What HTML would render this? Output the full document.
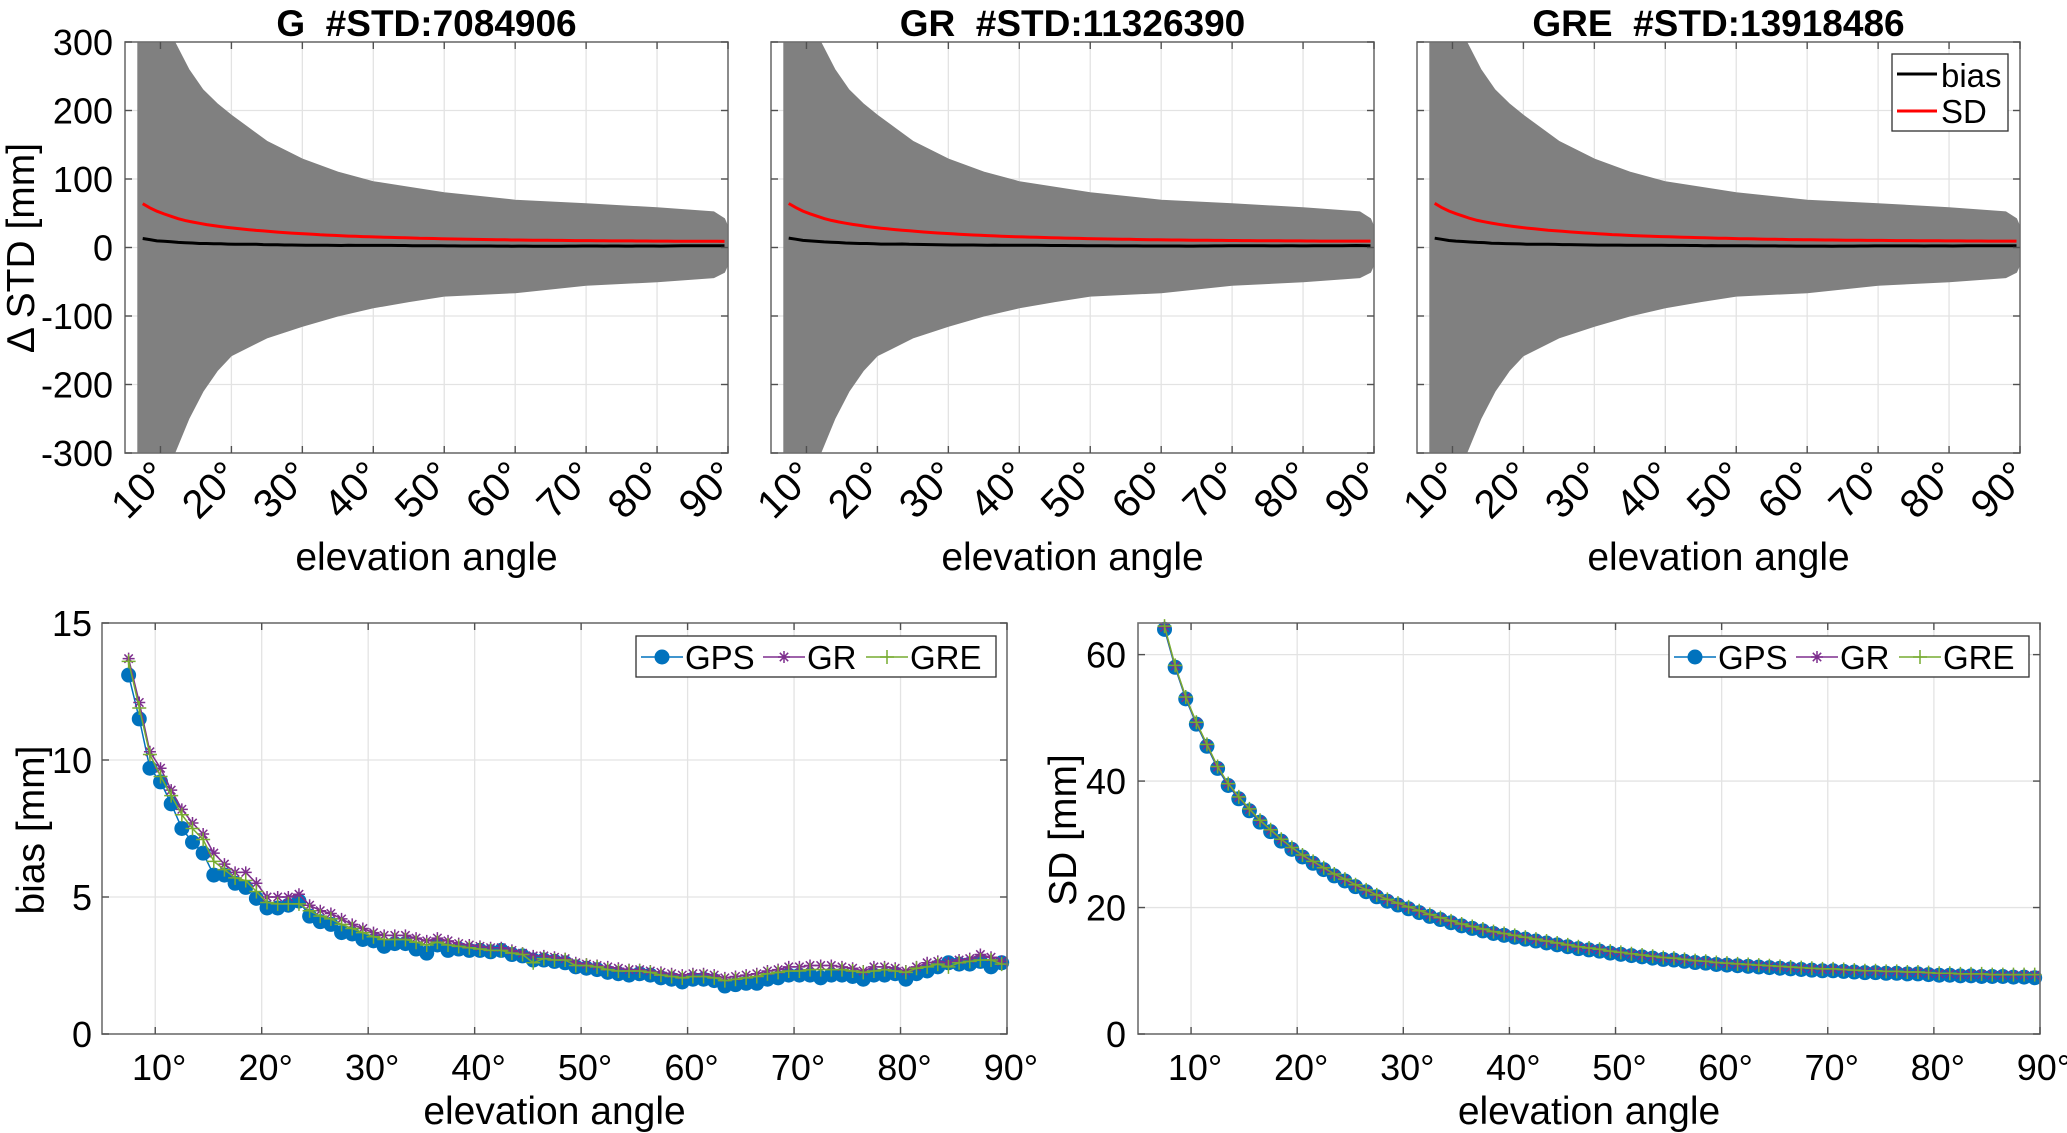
<!DOCTYPE html>
<html><head><meta charset="utf-8"><style>
body{margin:0;background:#fff}
svg{display:block;font-family:"Liberation Sans",sans-serif}
text{white-space:pre}
</style></head><body>
<svg id="fig" width="2067" height="1133" viewBox="0 0 2067 1133" xmlns="http://www.w3.org/2000/svg"></svg>
<script>
const elev=[7.5,8.5,9.5,10.5,11.5,12.5,13.5,14.5,15.5,16.5,17.5,18.5,19.5,20.5,21.5,22.5,23.5,24.5,25.5,26.5,27.5,28.5,29.5,30.5,31.5,32.5,33.5,34.5,35.5,36.5,37.5,38.5,39.5,40.5,41.5,42.5,43.5,44.5,45.5,46.5,47.5,48.5,49.5,50.5,51.5,52.5,53.5,54.5,55.5,56.5,57.5,58.5,59.5,60.5,61.5,62.5,63.5,64.5,65.5,66.5,67.5,68.5,69.5,70.5,71.5,72.5,73.5,74.5,75.5,76.5,77.5,78.5,79.5,80.5,81.5,82.5,83.5,84.5,85.5,86.5,87.5,88.5,89.5];
const biasGPS=[13.1,11.5,9.7,9.2,8.4,7.5,7.0,6.6,5.8,5.8,5.5,5.35,4.95,4.6,4.6,4.7,4.85,4.3,4.1,4.0,3.7,3.65,3.45,3.4,3.2,3.3,3.3,3.1,2.95,3.25,3.05,3.1,3.05,3.05,3.0,3.05,2.9,2.85,2.7,2.7,2.65,2.6,2.45,2.4,2.35,2.25,2.2,2.15,2.2,2.15,2.05,2.0,1.9,2.0,2.0,1.95,1.75,1.8,1.85,1.85,2.0,2.05,2.15,2.15,2.15,2.05,2.15,2.15,2.1,2.0,2.15,2.15,2.2,2.0,2.2,2.3,2.45,2.6,2.55,2.55,2.65,2.45,2.6];
const biasGR=[13.7,12.1,10.3,9.7,8.9,8.2,7.7,7.3,6.6,6.2,5.9,5.9,5.5,5.0,5.0,5.0,5.1,4.7,4.5,4.4,4.2,4.0,3.85,3.7,3.6,3.6,3.6,3.5,3.4,3.5,3.4,3.3,3.25,3.2,3.15,3.15,3.05,2.95,2.85,2.85,2.8,2.75,2.6,2.55,2.5,2.45,2.4,2.35,2.35,2.3,2.25,2.2,2.15,2.2,2.2,2.15,2.05,2.1,2.15,2.2,2.3,2.35,2.45,2.45,2.5,2.5,2.5,2.45,2.4,2.3,2.45,2.45,2.4,2.3,2.45,2.6,2.65,2.6,2.7,2.75,2.9,2.8,2.65];
const biasGRE=[13.6,11.9,10.2,9.4,8.7,8.0,7.5,7.1,6.3,6.0,5.7,5.6,5.2,4.8,4.75,4.75,4.75,4.5,4.3,4.2,4.0,3.85,3.7,3.55,3.45,3.45,3.45,3.35,3.25,3.35,3.25,3.2,3.15,3.1,3.05,3.05,2.95,2.9,2.6,2.75,2.7,2.7,2.5,2.5,2.45,2.35,2.3,2.3,2.3,2.25,2.15,2.1,2.05,2.1,2.1,2.05,1.95,2.0,2.05,2.1,2.2,2.25,2.3,2.3,2.35,2.35,2.35,2.35,2.3,2.25,2.3,2.35,2.3,2.25,2.4,2.45,2.55,2.45,2.6,2.65,2.7,2.7,2.55];
const sdGPS=[64,58,53,49,45.5,42,39.3,37.2,35.3,33.5,32,30.5,29.2,28,27,26,25,24.2,23.3,22.5,21.7,21,20.4,19.8,19.2,18.6,18.1,17.6,17.1,16.7,16.3,15.9,15.6,15.3,15.0,14.7,14.4,14.1,13.8,13.5,13.3,13.1,12.8,12.6,12.4,12.2,12.0,11.8,11.7,11.5,11.3,11.2,11.0,10.9,10.8,10.7,10.6,10.5,10.4,10.3,10.2,10.1,10.0,10.0,9.9,9.8,9.7,9.7,9.6,9.6,9.5,9.5,9.4,9.3,9.3,9.2,9.2,9.1,9.1,9.1,9.0,9.0,8.9];
const sdGR=[64.3,58.2,53.2,49.2,45.7,42.2,39.5,37.4,35.5,33.7,32.2,30.7,29.4,28.2,27.2,26.2,25.2,24.4,23.5,22.7,21.9,21.2,20.6,20.0,19.4,18.8,18.3,17.8,17.3,16.9,16.5,16.1,15.8,15.5,15.2,14.9,14.6,14.3,14.0,13.7,13.5,13.3,13.0,12.8,12.6,12.4,12.2,12.0,11.9,11.7,11.5,11.4,11.2,11.1,11.0,10.9,10.8,10.7,10.6,10.5,10.4,10.3,10.2,10.2,10.1,10.0,9.9,9.9,9.8,9.8,9.7,9.7,9.6,9.5,9.5,9.4,9.4,9.4,9.3,9.3,9.3,9.3,9.3];
const sdGRE=[64.5,58.3,53.3,49.3,45.8,42.3,39.6,37.5,35.6,33.8,32.3,30.8,29.5,28.3,27.3,26.3,25.3,24.5,23.6,22.8,22.0,21.3,20.7,20.1,19.5,18.9,18.4,17.9,17.4,17.0,16.6,16.2,15.9,15.6,15.3,15.0,14.7,14.4,14.1,13.8,13.6,13.4,13.1,12.9,12.7,12.5,12.3,12.1,12.0,11.8,11.6,11.5,11.3,11.2,11.1,11.0,10.9,10.8,10.7,10.6,10.5,10.4,10.3,10.3,10.2,10.1,10.0,10.0,9.9,9.9,9.8,9.8,9.7,9.6,9.6,9.5,9.5,9.5,9.4,9.4,9.4,9.4,9.4];
const envX=[6.8,8,10,12,14,16,18,20,25,30,35,40,45,50,60,70,80,88,89.5,90];
const envUpper=[340,340,330,300,260,230,210,193,155,129,110,96,88,80,69,64,58,52,42,30];
const envLower=[-340,-340,-330,-300,-250,-210,-180,-158,-132,-115,-100,-88,-79,-71,-66,-55,-50,-44,-36,-25];
const xTicks=[10,20,30,40,50,60,70,80,90];
const topYTicks=[-300,-200,-100,0,100,200,300];
const biasYTicks=[0,5,10,15];
const sdYTicks=[0,20,40,60];
const topTitles=["G  #STD:7084906","GR  #STD:11326390","GRE  #STD:13918486"];

const NS="http://www.w3.org/2000/svg";
const svg=document.getElementById('fig');
const FT=36, FL=39;
function mk(tag,attrs,parent){const e=document.createElementNS(NS,tag);for(const k in attrs)e.setAttribute(k,attrs[k]);(parent||svg).appendChild(e);return e;}
function txt(s,attrs,parent){const e=mk('text',attrs,parent);e.textContent=s;return e;}
function scale(d0,d1,r0,r1){return v=>r0+(v-d0)/(d1-d0)*(r1-r0);}

function axesFrame(g,L,R,T,B,sx,sy,yt){
  xTicks.forEach(t=>{const l=mk('line',{x1:sx(t),x2:sx(t),y1:T,y2:B,stroke:'#e3e3e3','stroke-width':1.3},g);
    
    });
  yt.forEach(t=>{const l=mk('line',{x1:L,x2:R,y1:sy(t),y2:sy(t),stroke:'#e3e3e3','stroke-width':1.3},g);
    
    });
}
function axesBox(g,L,R,T,B,sx,sy,yt){
  const r=mk('rect',{x:L,y:T,width:R-L,height:B-T,fill:'none',stroke:'#707070','stroke-width':1.6},g);
  
  
  xTicks.forEach(t=>{mk('line',{x1:sx(t),x2:sx(t),y1:B,y2:B-7,stroke:'#505050','stroke-width':1.4},g);mk('line',{x1:sx(t),x2:sx(t),y1:T,y2:T+7,stroke:'#505050','stroke-width':1.4},g);});
  yt.forEach(t=>{mk('line',{x1:L,x2:L+7,y1:sy(t),y2:sy(t),stroke:'#505050','stroke-width':1.4},g);mk('line',{x1:R,x2:R-7,y1:sy(t),y2:sy(t),stroke:'#505050','stroke-width':1.4},g);});
}
function pathFrom(xs,ys,sx,sy){return xs.map((x,i)=>(i?'L':'M')+sx(x).toFixed(1)+','+sy(ys[i]).toFixed(1)).join(' ');}

const topL=[125,771,1417], W=603, T=42, B=453;
const biasSets=[biasGPS,biasGR,biasGRE], sdSets=[sdGPS,sdGR,sdGRE];
topL.forEach((L,p)=>{
  const R=L+W;
  const g=mk('g',{});
  
  
  const sx=scale(5,90,L,R), sy=scale(-300,300,B,T);
  const cp=mk('clipPath',{id:'clip'+p},g);
  mk('rect',{x:L,y:T,width:W,height:B-T},cp);
  axesFrame(g,L,R,T,B,sx,sy,topYTicks);
  const cg=mk('g',{'clip-path':'url(#clip'+p+')'},g);
  let d=pathFrom(envX,envUpper,sx,sy);
  const rx=envX.slice().reverse(), rl=envLower.slice().reverse();
  d+=' '+rx.map((x,i)=>'L'+sx(x).toFixed(1)+','+sy(rl[i]).toFixed(1)).join(' ')+' Z';
  const sc=mk('path',{d:d,fill:'#808080',stroke:'#808080','stroke-width':1},cg);
  
  
  const sdl=mk('path',{d:pathFrom(elev,sdSets[p],sx,sy),fill:'none',stroke:'#ff0000','stroke-width':3},cg);
  
  
  const bl=mk('path',{d:pathFrom(elev,biasSets[p],sx,sy),fill:'none',stroke:'#000','stroke-width':3},cg);
  
  
  axesBox(g,L,R,T,B,sx,sy,topYTicks);
  const tt=txt(topTitles[p],{x:(L+R)/2,y:36,'text-anchor':'middle','font-size':37,'font-weight':'bold'},g);
  
  
  xTicks.forEach(t=>{const x=sx(t)+10,y=478;
    const e=txt(t+'°',{x:x,y:y,'text-anchor':'end','font-size':40,transform:'rotate(-45 '+x+' '+y+')'},g);
    
    });
  if(p===0){topYTicks.forEach(t=>{const e=txt(t,{x:113,y:sy(t)+13,'text-anchor':'end','font-size':FT},g);
    
    });
    const yl=txt('Δ STD [mm]',{x:0,y:0,'text-anchor':'middle','font-size':FL,transform:'translate(34 248) rotate(-90)'},g);
    
    }
  const xl=txt('elevation angle',{x:(L+R)/2,y:570,'text-anchor':'middle','font-size':FL},g);
  
  
  if(p===2){
    const lg=mk('g',{},g);
    
    
    mk('rect',{x:1892,y:54,width:116,height:77,fill:'#fff',stroke:'#303030','stroke-width':1.3},lg);
    mk('line',{x1:1897,x2:1937,y1:74,y2:74,stroke:'#000','stroke-width':3},lg);
    mk('line',{x1:1897,x2:1937,y1:111,y2:111,stroke:'#f00','stroke-width':3},lg);
    const a=txt('bias',{x:1941,y:87,'font-size':33},lg);
    
    
    const b=txt('SD',{x:1941,y:123,'font-size':33},lg);
    
    
  }
});

function markerCircle(g,x,y){const c=mk('circle',{cx:x,cy:y,r:7.5,fill:'#0072BD'},g);}
function markerStar(g,x,y){const s=6;const p=mk('path',{d:`M${x-s},${y}H${x+s}M${x},${y-s}V${y+s}M${x-s*.7},${y-s*.7}L${x+s*.7},${y+s*.7}M${x-s*.7},${y+s*.7}L${x+s*.7},${y-s*.7}`,stroke:'#7E2F8E','stroke-width':1.5,fill:'none'},g);}
function markerPlus(g,x,y){const s=7;const p=mk('path',{d:`M${x-s},${y}H${x+s}M${x},${y-s}V${y+s}`,stroke:'#77AC30','stroke-width':1.5,fill:'none'},g);}

function bottomPanel(L,R,ymax,yt,sets,ylab,ylabX,tickRight,name){
  const T=623,B=1034;
  const g=mk('g',{});
  
  
  const sx=scale(5,90,L,R), sy=scale(0,ymax,B,T);
  axesFrame(g,L,R,T,B,sx,sy,yt);
  const cols=['#0072BD','#7E2F8E','#77AC30'], mks=[markerCircle,markerStar,markerPlus], nm=['gps-line','gr-line','gre-line'];
  sets.forEach((arr,k)=>{
    const l=mk('path',{d:pathFrom(elev,arr,sx,sy),fill:'none',stroke:cols[k],'stroke-width':1.5},g);
    
    
    elev.forEach((x,i)=>mks[k](g,sx(x),sy(arr[i])));
  });
  axesBox(g,L,R,T,B,sx,sy,yt);
  xTicks.forEach(t=>{const e=txt(t+'°',{x:sx(t)+4,y:1080,'text-anchor':'middle','font-size':FT},g);
    
    });
  yt.forEach(t=>{const e=txt(t,{x:tickRight,y:sy(t)+13,'text-anchor':'end','font-size':FT},g);
    
    });
  const yl=txt(ylab,{x:0,y:0,'text-anchor':'middle','font-size':FL,transform:`translate(${ylabX} 830) rotate(-90)`},g);
  
  
  const xl=txt('elevation angle',{x:(L+R)/2,y:1124,'text-anchor':'middle','font-size':FL},g);
  
  
  const lx=R-371, ly=636;
  const lg=mk('g',{},g);
  
  
  mk('rect',{x:lx,y:ly,width:360,height:41,fill:'#fff',stroke:'#303030','stroke-width':1.3},lg);
  const labs=['GPS','GR','GRE'], offs=[5,127,230];
  labs.forEach((s,k)=>{const x0=lx+offs[k], yc=ly+21;
    mk('line',{x1:x0,x2:x0+42,y1:yc,y2:yc,stroke:cols[k],'stroke-width':1.5},lg);
    mks[k](lg,x0+21,yc);
    const e=txt(s,{x:x0+44,y:yc+12,'font-size':33},lg);
    
    });
}
bottomPanel(102,1007,15,biasYTicks,[biasGPS,biasGR,biasGRE],'bias [mm]',44,92,'bias-panel');
bottomPanel(1138,2040,65,sdYTicks,[sdGPS,sdGR,sdGRE],'SD [mm]',1076,1126,'sd-panel');
</script>
</body></html>
